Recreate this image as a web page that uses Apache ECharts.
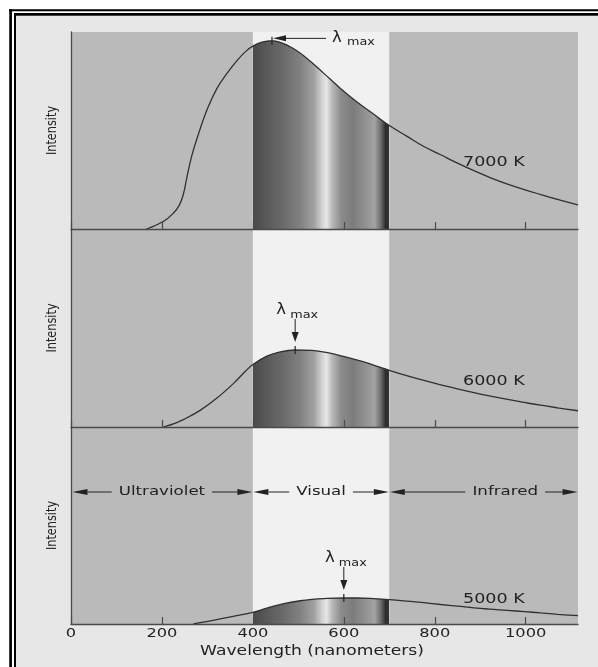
<!DOCTYPE html>
<html>
<head>
<meta charset="utf-8">
<script src="https://cdn.jsdelivr.net/npm/echarts@6/dist/echarts.min.js"></script>
<style>
  html, body { margin: 0; padding: 0; background: #ffffff; }
  #chart { width: 598px; height: 667px; }
</style>
</head>
<body>
<div id="chart"></div>
<script>
// Wavelength bands (nm) and their names
const bandEdges = [0, 400, 700, 1115];
const bandNames = ['Ultraviolet', 'Visual', 'Infrared'];
const bandLabelAt = [200, 550, 955];

// Axis tick values (nm)
const tickValues = [0, 200, 400, 600, 800, 1000];

// Blackbody curves: wavelength (nm) and relative intensity
const temperatures = ['7000 K', '6000 K', '5000 K'];

const wl7000 = [166, 203, 225, 238, 247, 256, 266, 280, 300, 321, 343, 365, 385, 400, 420, 442, 482, 519, 556, 592, 629, 666, 700, 740, 776, 813, 850, 886, 923, 960, 997, 1033, 1070, 1115];
const int7000 = [0, 3.8, 8.0, 12.0, 17.5, 27.5, 37.5, 48.0, 61.0, 71.4, 79.0, 85.5, 90.3, 92.8, 94.8, 95.5, 92.5, 86.6, 79.0, 71.5, 64.5, 58.2, 52.5, 46.9, 41.9, 37.7, 33.4, 29.6, 26.0, 22.8, 20.0, 17.5, 15.0, 12.2];

const wl6000 = [203, 230, 247, 284, 321, 357, 383, 400, 431, 456, 493, 530, 567, 603, 640, 677, 700, 740, 776, 813, 850, 886, 923, 960, 997, 1033, 1070, 1115];
const int6000 = [0, 2.0, 3.7, 8.4, 14.6, 21.9, 28.0, 31.6, 35.8, 37.7, 38.9, 38.7, 37.4, 35.4, 33.1, 30.4, 28.6, 25.8, 23.5, 21.3, 19.3, 17.4, 15.6, 13.9, 12.4, 11.0, 9.7, 8.2];

const wl5000 = [269, 321, 357, 400, 431, 468, 504, 530, 556, 600, 629, 666, 700, 740, 776, 813, 850, 886, 923, 960, 997, 1033, 1070, 1115];
const int5000 = [0, 2.2, 3.9, 5.9, 8.1, 10.3, 11.8, 12.5, 12.9, 13.2, 13.2, 12.9, 12.4, 11.6, 10.8, 9.9, 9.1, 8.2, 7.5, 6.9, 6.3, 5.6, 4.9, 4.2];

// Peak wavelength of each curve (nm)
const lambdaMax = [442, 493, 600];

// Where each temperature label sits, in data units
const tempLabelAt = [[930, 34], [930, 23], [930, 12.3]];

const panels = [
  { wl: wl7000, val: int7000 },
  { wl: wl6000, val: int6000 },
  { wl: wl5000, val: int5000 }
];

// ---- styling ----
const INK = '#222222';
const FONT = '"DejaVu Sans", Arial, sans-serif';
const bandFill = ['#bababa', '#f1f1f1', '#bababa'];
// grey shading across the visible band, by wavelength
const visShade = [
  [400, '#4a4a4a'], [430, '#595959'], [470, '#6c6c6c'], [505, '#828282'],
  [535, '#a2a2a2'], [552, '#d2d2d2'], [562, '#e6e6e6'], [575, '#b6b6b6'],
  [595, '#8a8a8a'], [620, '#7c7c7c'], [648, '#929292'], [668, '#a2a2a2'],
  [682, '#6a6a6a'], [692, '#2c2c2c'], [700, '#343434']
];

const gridBoxes = [
  { top: 32, height: 197 },
  { top: 229, height: 198 },
  { top: 427, height: 197 }
];

function visibleFill(xs) {
  const x0 = xs[0], x1 = xs[xs.length - 1];
  const off = v => Math.min(1, Math.max(0, (v - x0) / (x1 - x0)));
  const clear = 'rgba(0,0,0,0)';
  const stops = [{ offset: 0, color: clear }, { offset: off(bandEdges[1]), color: clear }];
  visShade.forEach(([nm, c]) => stops.push({ offset: off(nm), color: c }));
  stops.push({ offset: off(bandEdges[2]), color: clear }, { offset: 1, color: clear });
  return new echarts.graphic.LinearGradient(0, 0, 1, 0, stops);
}

const bandAreas = bandNames.map((n, b) => [
  { xAxis: bandEdges[b], itemStyle: { color: bandFill[b], opacity: 1 } },
  { xAxis: bandEdges[b + 1] }
]);

const chart = echarts.init(document.getElementById('chart'), null, { renderer: 'canvas' });

const option = {
  animation: false,
  backgroundColor: '#ffffff',
  grid: gridBoxes.map(g => ({
    left: 71, right: 20, top: g.top, height: g.height,
    outerBoundsMode: 'none', containLabel: false
  })),
  xAxis: panels.map((p, i) => ({
    type: 'value', gridIndex: i, min: bandEdges[0], max: bandEdges[3], z: 10,
    axisLine: { show: true, onZero: false, lineStyle: { color: '#4a4a4a', width: 1.3 } },
    axisTick: { show: true, inside: true, length: 7, customValues: tickValues,
                lineStyle: { color: '#4a4a4a', width: 1.2 } },
    axisLabel: { show: false },
    splitLine: { show: false }
  })),
  yAxis: panels.map((p, i) => ({
    type: 'value', gridIndex: i, min: 0, max: 100, z: 10,
    axisLine: { show: true, lineStyle: { color: '#4a4a4a', width: 1.3 } },
    axisTick: { show: false },
    axisLabel: { show: false },
    splitLine: { show: false }
  })),
  series: panels.map((p, i) => ({
    type: 'line', xAxisIndex: i, yAxisIndex: i,
    data: p.wl.map((x, k) => [x, p.val[k]]),
    smooth: 0.4,
    symbol: 'none', showSymbol: false, silent: true,
    lineStyle: { color: '#303030', width: 1.3 },
    areaStyle: { color: visibleFill(p.wl), opacity: 1 },
    markArea: { silent: true, label: { show: false }, data: bandAreas }
  }))
};
chart.setOption(option);

// ---- annotations placed through the axes ----
const measureCtx = document.createElement('canvas').getContext('2d');
function textWidth(str, size, sx) {
  measureCtx.font = size + 'px ' + FONT;
  return measureCtx.measureText(str).width * sx;
}
function txt(str, x, y, size, sx, align, extra) {
  return Object.assign({
    type: 'text', x: x, y: y, scaleX: sx, z: 100, silent: true,
    style: {
      text: str, font: size + 'px ' + FONT, fill: INK,
      align: align || 'center', verticalAlign: 'middle',
      textAlign: align || 'center', textVerticalAlign: 'middle'
    }
  }, extra || {});
}
function seg(x1, y1, x2, y2, w) {
  return { type: 'line', z: 100, silent: true,
           shape: { x1: x1, y1: y1, x2: x2, y2: y2 },
           style: { stroke: INK, lineWidth: w || 1 } };
}
function tri(pts) {
  return { type: 'polygon', z: 100, silent: true, shape: { points: pts }, style: { fill: INK } };
}
const P = (g, x, y) => chart.convertToPixel({ gridIndex: g }, [x, y]);

const els = [];
const W = chart.getWidth(), H = chart.getHeight();

// page tone and double frame
els.push({ type: 'rect', z: -5, silent: true, shape: { x: 16, y: 16, width: W - 16, height: H - 16 }, style: { fill: '#e7e7e7' } });
els.push({ type: 'line', z: 120, silent: true, shape: { x1: 9, y1: 10.3, x2: W, y2: 10.3 }, style: { stroke: '#000', lineWidth: 2 } });
els.push({ type: 'line', z: 120, silent: true, shape: { x1: 14, y1: 14.4, x2: W, y2: 14.4 }, style: { stroke: '#000', lineWidth: 2.8 } });
els.push({ type: 'line', z: 120, silent: true, shape: { x1: 10.6, y1: 9.3, x2: 10.6, y2: H }, style: { stroke: '#000', lineWidth: 2.7 } });
els.push({ type: 'line', z: 120, silent: true, shape: { x1: 15, y1: 13, x2: 15, y2: H }, style: { stroke: '#000', lineWidth: 2 } });

// tick labels and axis title under the bottom panel
tickValues.forEach(v => {
  const [x, y] = P(2, v, 0);
  els.push(txt(String(v), x, y + 10, 12.5, 1.3));
});
{
  const [x, y] = P(2, 530, 0);
  els.push(txt('Wavelength (nanometers)', x, y + 27.5, 13.5, 1.27));
}

panels.forEach((p, g) => {
  // y axis title
  const [ax, my] = P(g, 0, 50);
  els.push(txt('Intensity', ax - 19, my, 14.5, 0.78, 'center', { rotation: Math.PI / 2 }));

  // temperature label
  const [tx, ty] = P(g, tempLabelAt[g][0], tempLabelAt[g][1]);
  els.push(txt(temperatures[g], tx, ty, 13.5, 1.3));

  // peak marker
  const lm = lambdaMax[g];
  const v = p.val[p.wl.indexOf(lm)];
  const [px, py] = P(g, lm, v);
  els.push(seg(px, py - 4, px, py + 4, 1.2));
  if (g === 0) {
    const ay = py - 2.5;
    els.push(tri([[px + 1, ay], [px + 14, ay - 3], [px + 14, ay + 3]]));
    els.push(seg(px + 14, ay, px + 54, ay, 1));
    els.push(txt('λ', px + 65, ay - 0.5, 15, 1.1));
    els.push(txt('max', px + 75, ay + 4, 10, 1.28, 'left'));
  } else {
    els.push(seg(px, py - 31, px, py - 17, 1));
    els.push(tri([[px, py - 8], [px - 3.5, py - 18], [px + 3.5, py - 18]]));
    els.push(txt('λ', px - 14, py - 40, 15, 1.1));
    els.push(txt('max', px - 5, py - 35, 10, 1.28, 'left'));
  }
});

// band arrows across the bottom panel
bandNames.forEach((name, b) => {
  const [L, y] = P(2, bandEdges[b], 67);
  const R = P(2, bandEdges[b + 1], 67)[0];
  const C = P(2, bandLabelAt[b], 67)[0];
  const hw = textWidth(name, 13, 1.28) / 2;
  const l0 = L + (b === 0 ? 1.5 : 0.5);
  const r0 = R - 0.5;
  els.push(tri([[l0, y], [l0 + 15, y - 3], [l0 + 15, y + 3]]));
  els.push(seg(l0 + 15, y, C - hw - 7, y, 1));
  els.push(txt(name, C, y, 13, 1.28));
  els.push(seg(C + hw + 7, y, r0 - 15, y, 1));
  els.push(tri([[r0, y], [r0 - 15, y - 3], [r0 - 15, y + 3]]));
});

chart.setOption({ graphic: { elements: els } });
</script>
</body>
</html>
